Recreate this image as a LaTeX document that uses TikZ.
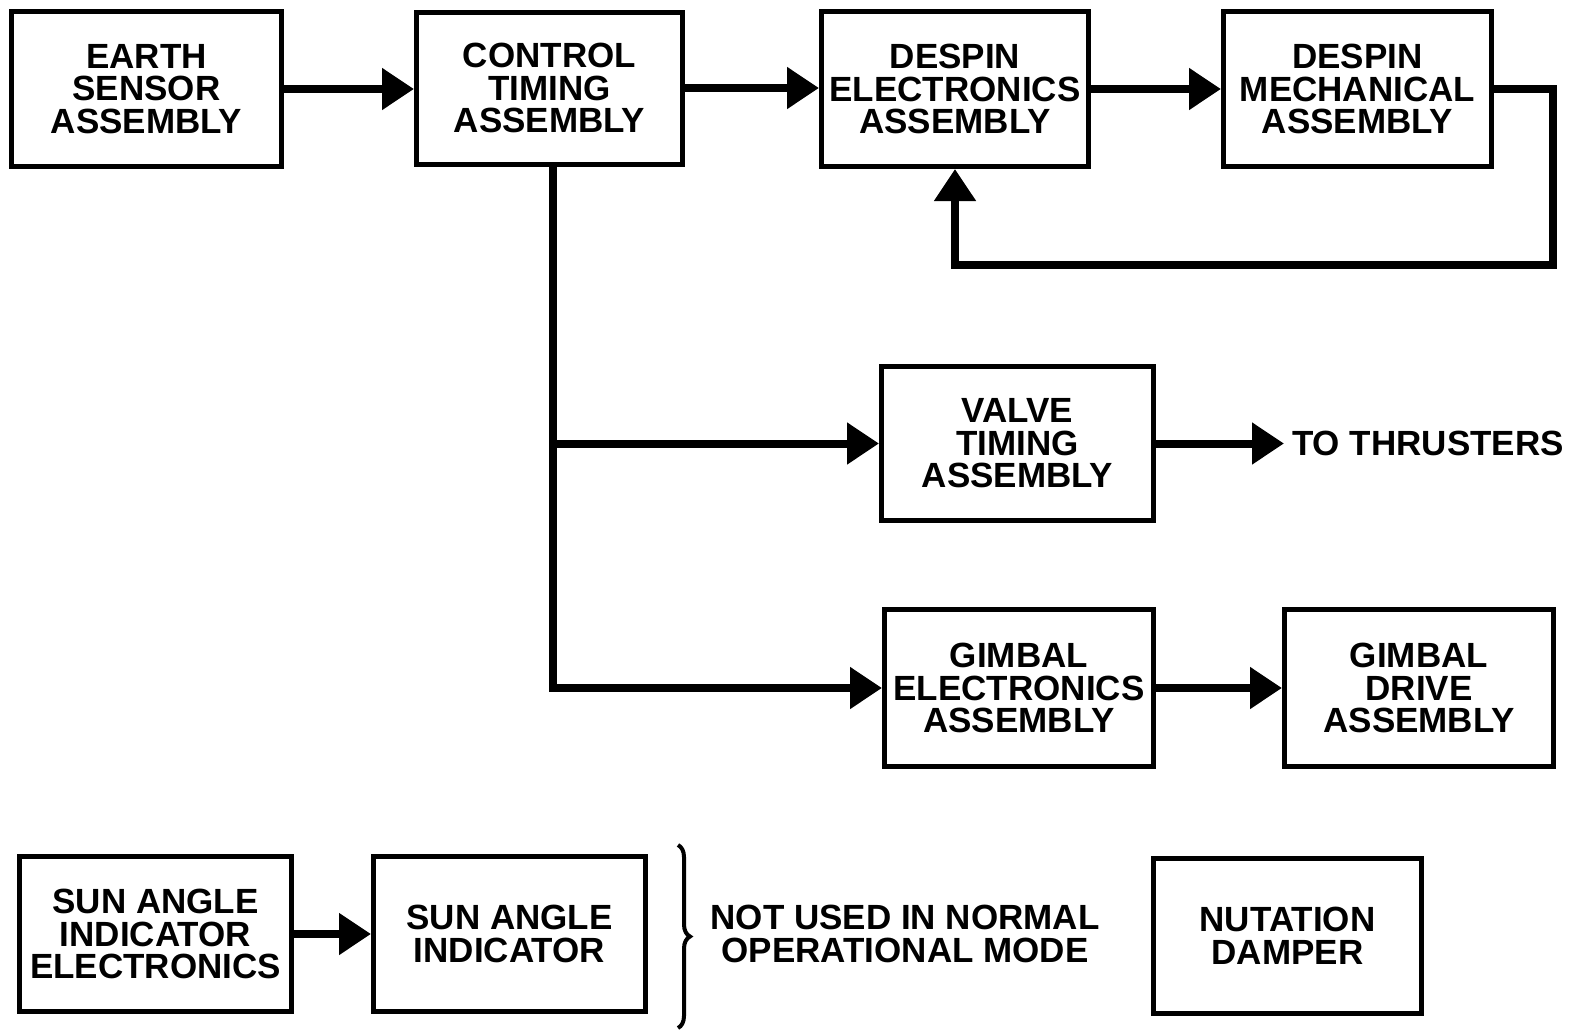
\documentclass[tikz,border=0pt]{standalone}
\usepackage{fontspec}
\setmainfont{Liberation Sans}
\usetikzlibrary{arrows.meta,decorations.pathreplacing}
\begin{document}
\begin{tikzpicture}[x=1pt,y=-1pt,
  box/.style={draw,line width=5pt,rectangle,align=center,inner sep=0pt,
    font=\fontsize{35}{32.5}\selectfont\bfseries},
  lbl/.style={align=center,inner sep=0pt,font=\fontsize{35}{32.5}\selectfont\bfseries},
  conn/.style={line width=8pt,line join=miter},
  arr/.style={conn,-{Triangle[length=32pt,width=40pt]}}]
\useasboundingbox (0,0) rectangle (1572,1034);
% boxes
\node[box,minimum width=270,minimum height=155] (es) at (146.5,89) {EARTH\\SENSOR\\ASSEMBLY};
\node[box,minimum width=266,minimum height=152] (ct) at (549.5,88) {CONTROL\\TIMING\\ASSEMBLY};
\node[box,minimum width=267,minimum height=155] (de) at (955,89) {DESPIN\\ELECTRONICS\\ASSEMBLY};
\node[box,minimum width=268,minimum height=155] (dm) at (1357.5,89) {DESPIN\\MECHANICAL\\ASSEMBLY};
\node[box,minimum width=272,minimum height=154] (vt) at (1017.5,443.5) {VALVE\\TIMING\\ASSEMBLY};
\node[box,minimum width=269,minimum height=157] (ge) at (1019,688) {GIMBAL\\ELECTRONICS\\ASSEMBLY};
\node[box,minimum width=269,minimum height=157] (gd) at (1419,688) {GIMBAL\\DRIVE\\ASSEMBLY};
\node[box,minimum width=272,minimum height=155] (sae) at (155.5,934) {SUN ANGLE\\INDICATOR\\ELECTRONICS};
\node[box,minimum width=272,minimum height=155] (sai) at (509.5,934) {SUN ANGLE\\INDICATOR};
\node[box,minimum width=268,minimum height=155] (nd) at (1287.5,936) {NUTATION\\DAMPER};
\node[lbl,anchor=west] (thr) at (1292,443.5) {TO THRUSTERS};
\node[lbl] (nu) at (905,934) {NOT USED IN NORMAL\\OPERATIONAL MODE};
% connectors
\draw[arr] (es.east) -- (es.east -| ct.west);
\draw[arr] (ct.east) -- (ct.east -| de.west);
\draw[arr] (de.east) -- (de.east -| dm.west);
\draw[arr] (dm.east) -| (1553,265) -| (de.south);
\coordinate (trunk) at (553,164);
\draw[conn] (trunk) -- (trunk |- ge.west);
\draw[arr] ([xshift=-4pt]trunk |- vt.west) -- (vt.west);
\draw[arr] ([xshift=-4pt]trunk |- ge.west) -- (ge.west);
\draw[arr] (vt.east) -- ([xshift=-8pt]thr.west);
\draw[arr] (ge.east) -- (ge.east -| gd.west);
\draw[arr] (sae.east) -- (sae.east -| sai.west);
% brace
\draw[line width=4pt,decorate,decoration={brace,amplitude=12pt}] (678,845) -- (678,1028);
\end{tikzpicture}
\end{document}
